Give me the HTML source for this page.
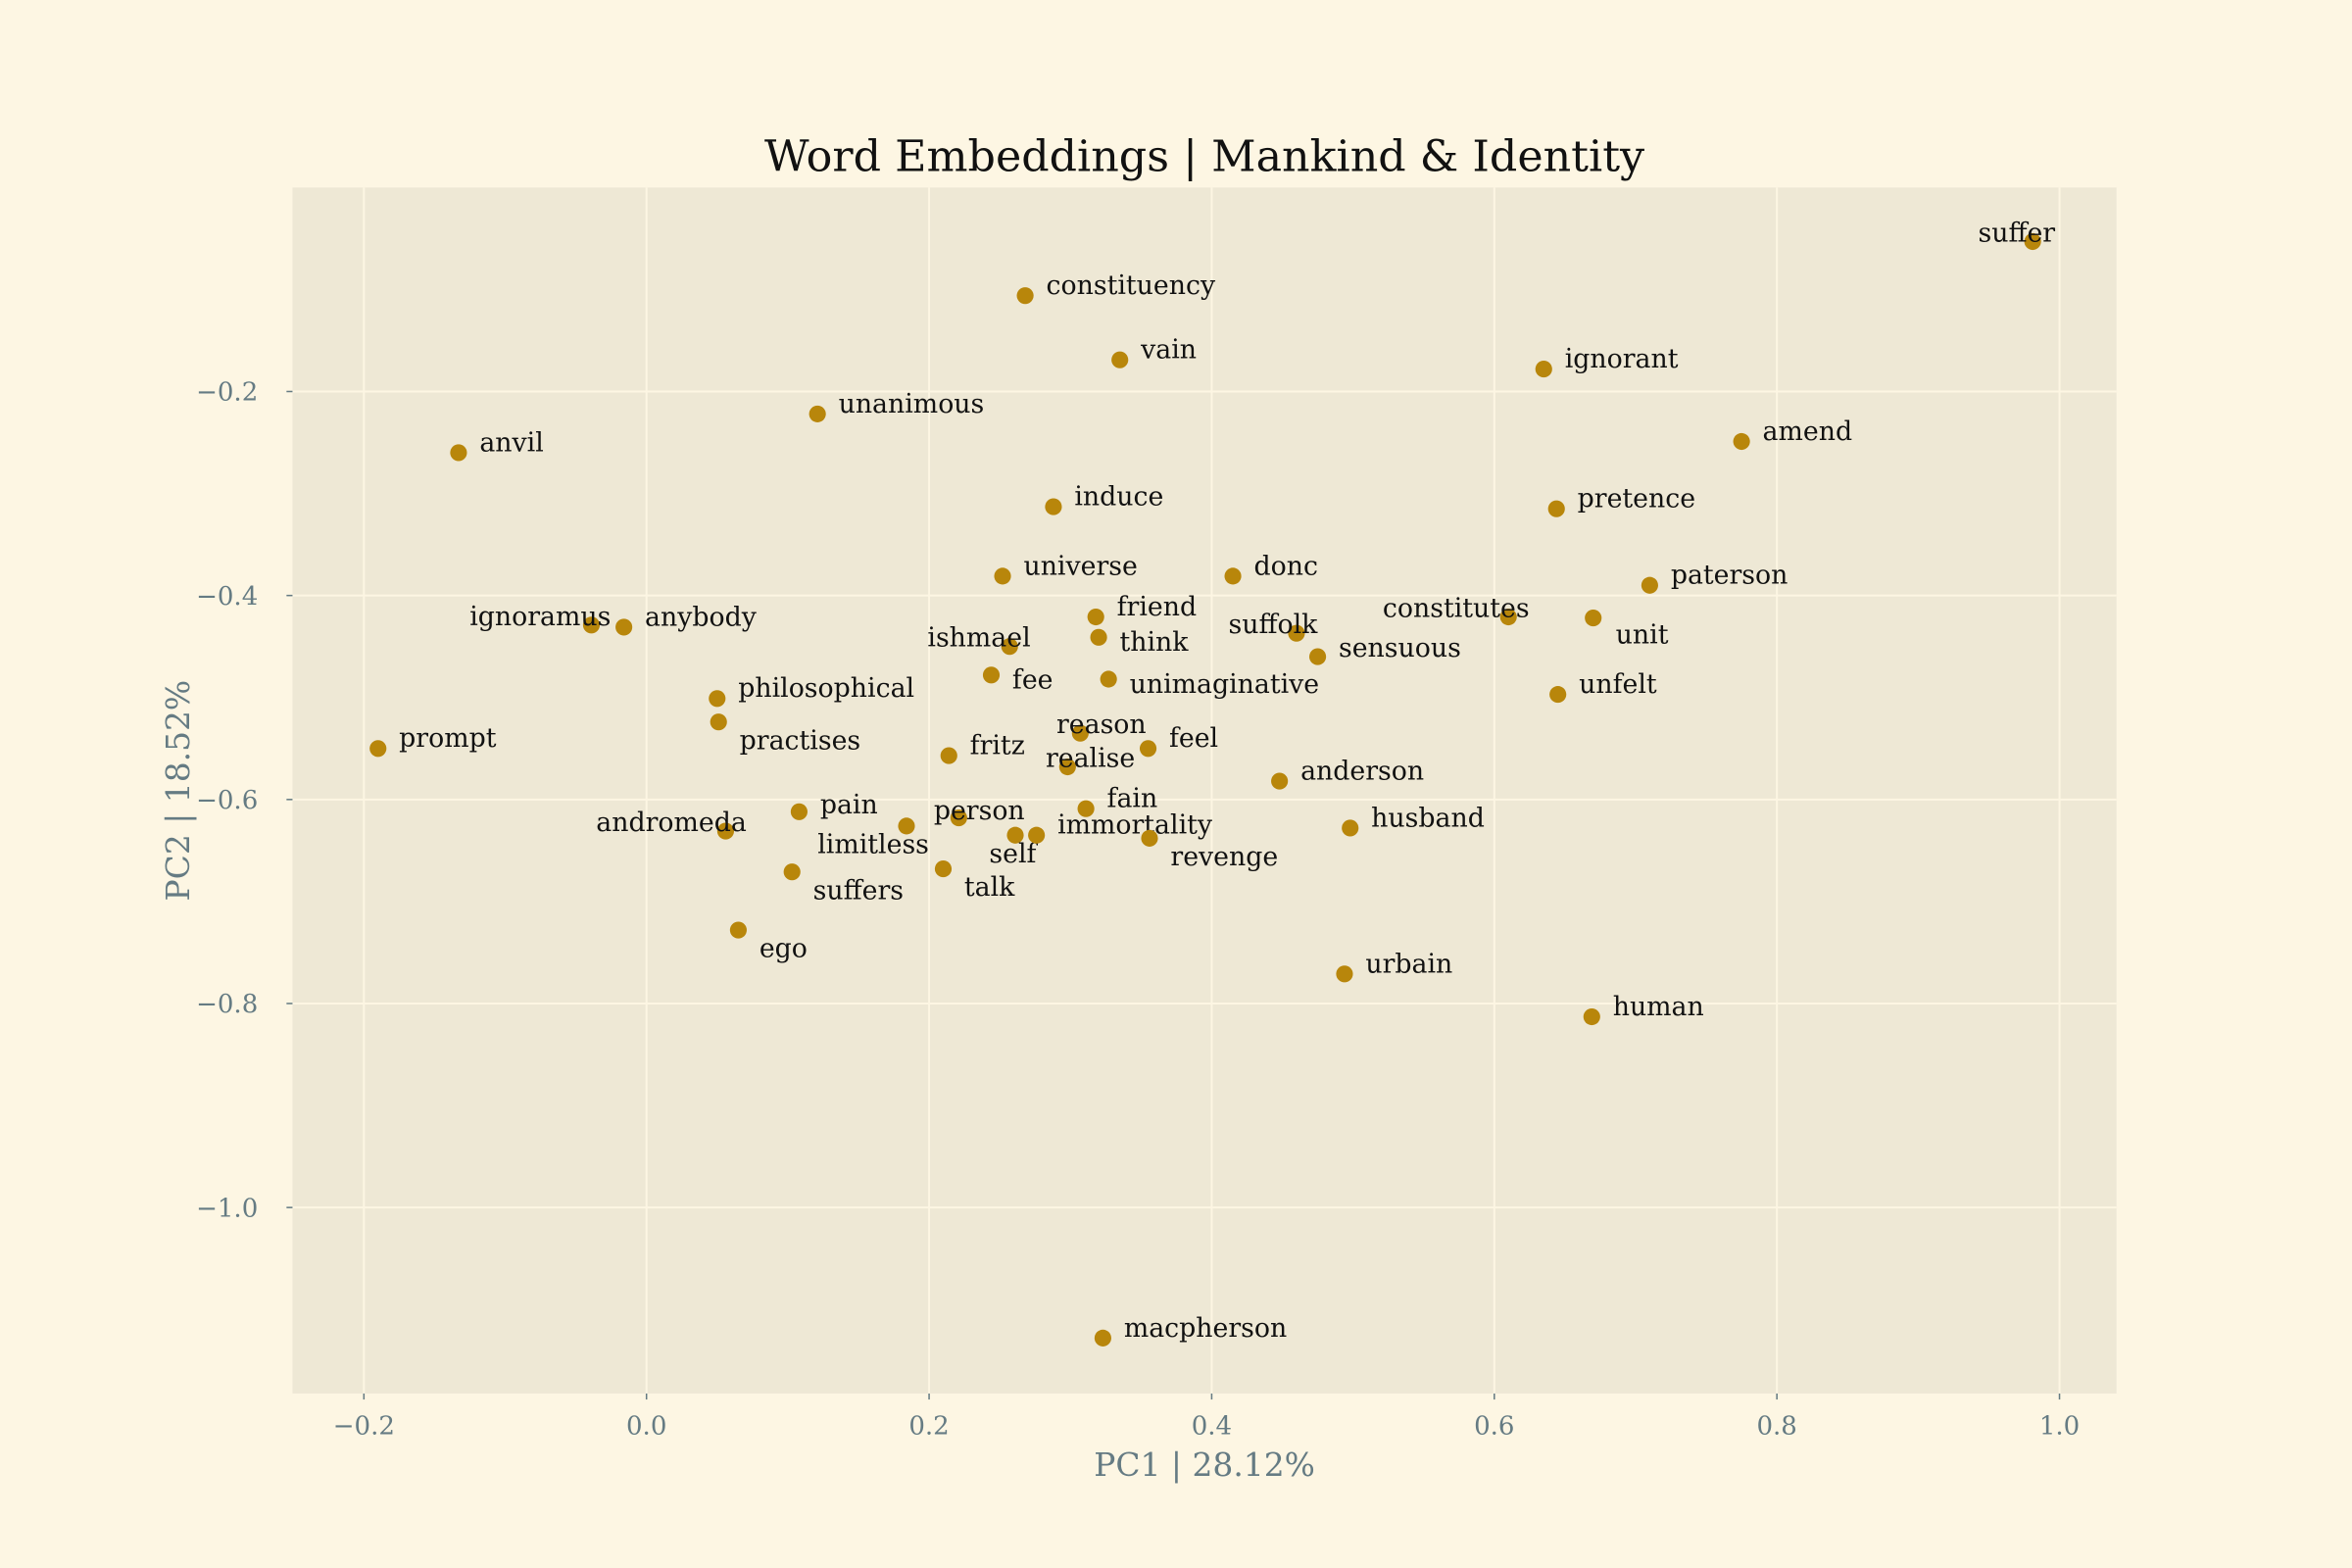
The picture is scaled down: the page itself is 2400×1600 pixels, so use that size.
<!DOCTYPE html>
<html><head><meta charset="utf-8"><style>
html,body{margin:0;padding:0;background:#fdf6e3;}
svg{display:block;font-family:"DejaVu Serif","Liberation Serif",serif;}
</style></head><body>
<svg id="chart" width="2400" height="1600" viewBox="0 0 1568 1045.33" xmlns="http://www.w3.org/2000/svg">
<rect width="1568" height="1046" fill="#fdf6e3"/>
<rect x="195" y="125" width="1216" height="804" fill="#eee8d5"/>
<g id="grid"></g>
<g id="ticks"></g>
<g id="points"></g>
<text x="803" y="114" text-anchor="middle" font-size="29" fill="#111">Word Embeddings | Mankind &amp; Identity</text>
<text x="803" y="984" text-anchor="middle" font-size="21.5" fill="#657b83">PC1 | 28.12%</text>
<text transform="translate(126,527) rotate(-90)" text-anchor="middle" font-size="21.5" fill="#657b83">PC2 | 18.52%</text>
</svg>
<script>
const words = ["suffer","constituency","vain","ignorant","unanimous","anvil","amend","induce","pretence","universe","donc","paterson","ignoramus","anybody","friend","constitutes","unit","suffolk","think","ishmael","sensuous","fee","unimaginative","philosophical","unfelt","practises","prompt","reason","feel","fritz","realise","anderson","pain","fain","andromeda","person","limitless","husband","self","immortality","revenge","suffers","talk","ego","urbain","human","macpherson"];
const pc1 = [0.981,0.268,0.335,0.635,0.121,-0.133,0.775,0.288,0.644,0.252,0.415,0.710,-0.039,-0.016,0.318,0.610,0.670,0.460,0.320,0.257,0.475,0.244,0.327,0.050,0.645,0.051,-0.190,0.307,0.355,0.214,0.298,0.448,0.108,0.311,0.056,0.221,0.184,0.498,0.261,0.276,0.356,0.103,0.210,0.065,0.494,0.669,0.323];
const pc2 = [-0.053,-0.106,-0.169,-0.178,-0.222,-0.260,-0.249,-0.313,-0.315,-0.381,-0.381,-0.390,-0.429,-0.431,-0.421,-0.421,-0.422,-0.437,-0.441,-0.450,-0.460,-0.478,-0.482,-0.501,-0.497,-0.524,-0.550,-0.535,-0.550,-0.557,-0.568,-0.582,-0.612,-0.609,-0.631,-0.618,-0.626,-0.628,-0.635,-0.635,-0.638,-0.671,-0.668,-0.728,-0.771,-0.813,-1.128];
const xTicks = [-0.2,0.0,0.2,0.4,0.6,0.8,1.0];
const yTicks = [-0.2,-0.4,-0.6,-0.8,-1.0];
const xTickLabels = ["\u22120.2","0.0","0.2","0.4","0.6","0.8","1.0"];
const yTickLabels = ["\u22120.2","\u22120.4","\u22120.6","\u22120.8","\u22121.0"];
// label placement (anchor, dx, dy) per word
const labelLayout = {
 suffer:["end",15,0], ignoramus:["end",13,0], ishmael:["end",14,0], constitutes:["end",14,0],
 suffolk:["end",14,0], unit:["start",15,17], think:["start",14,9], fee:["start",14,9],
 unimaginative:["start",14,9], practises:["start",14,18], reason:["end",44,0], realise:["end",45,0],
 andromeda:["end",14,0], person:["end",44,1], limitless:["end",15,18], self:["end",14,18],
 revenge:["start",14,18], suffers:["start",14,18], talk:["start",14,18], ego:["start",14,18],
 pain:["start",14,1], sensuous:["start",14,0]
};
const NS="http://www.w3.org/2000/svg";
const X0=195,X1=1411,Y0=125,Y1=929;
function xScale(v){return 431+v*942;}
function yScale(v){return 261+(-v-0.2)*680;}
function mk(tag,attrs,parent){const e=document.createElementNS(NS,tag);for(const k in attrs)e.setAttribute(k,attrs[k]);parent.appendChild(e);return e;}
const grid=document.getElementById('grid'), ticks=document.getElementById('ticks'), pts=document.getElementById('points');
xTicks.forEach((t,i)=>{
 const x=xScale(t);
 const l=mk('line',{x1:x,x2:x,y1:Y0,y2:Y1,stroke:'#fdf6e3','stroke-width':1.3},grid);
 
 
 const m=mk('line',{x1:x,x2:x,y1:Y1,y2:Y1+4,stroke:'#657b83','stroke-width':1},ticks);
 
 
 const tx=mk('text',{x:x,y:956,'text-anchor':'middle','font-size':17,fill:'#657b83'},ticks);
 tx.textContent=xTickLabels[i];
 
 
});
yTicks.forEach((t,i)=>{
 const y=yScale(t);
 const l=mk('line',{x1:X0,x2:X1,y1:y,y2:y,stroke:'#fdf6e3','stroke-width':1.3},grid);
 
 
 const m=mk('line',{x1:X0-4,x2:X0,y1:y,y2:y,stroke:'#657b83','stroke-width':1},ticks);
 
 
 const tx=mk('text',{x:172,y:y+6,'text-anchor':'end','font-size':17,fill:'#657b83'},ticks);
 tx.textContent=yTickLabels[i];
 
 
});
words.forEach((w,i)=>{
 const cx=xScale(pc1[i]), cy=yScale(pc2[i]);
 const c=mk('circle',{cx:cx,cy:cy,r:5.6,fill:'#b8860b'},pts);
 
 
 const L=labelLayout[w]||["start",14,-1];
 const t=mk('text',{x:cx+L[1],y:cy+L[2],'text-anchor':L[0],'font-size':17.5,fill:'#111'},pts);
 t.textContent=w;
 
 
});
</script>
</body></html>
